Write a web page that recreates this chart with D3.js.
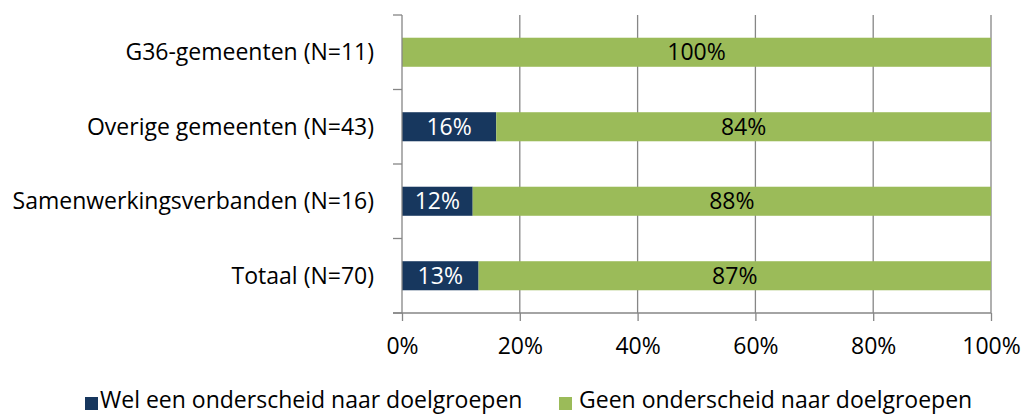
<!DOCTYPE html>
<html>
<head>
<meta charset="utf-8">
<script src="https://cdn.jsdelivr.net/npm/d3@7"></script>
<style>
  body { margin: 0; background: #fff; }
  svg text { font-family: "Open Sans", "Noto Sans", sans-serif; }
</style>
</head>
<body>
<svg id="chart" width="1024" height="414"></svg>
<script>
// data
let categories = ["G36-gemeenten (N=11)", "Overige gemeenten (N=43)", "Samenwerkingsverbanden (N=16)", "Totaal (N=70)"];
let welValues = [0, 16, 12, 13];
let geenValues = [100, 84, 88, 87];
let seriesNames = ["Wel een onderscheid naar doelgroepen", "Geen onderscheid naar doelgroepen"];
let tickValues = [0, 20, 40, 60, 80, 100];

let chart = d3.select("#chart");
let colors = ["#17375E", "#9BBB59"];
let gridColor = "#868686";
let fontSize = 23;

// scales
let x = d3.scaleLinear()
    .domain([0, 100])
    .range([402, 991]);

let y = d3.scaleBand()
    .domain(categories)
    .range([15, 313])
    .paddingInner(0.61)
    .paddingOuter(0.305);

// vertical gridlines
chart.selectAll(".grid")
    .data(tickValues.slice(1))
    .enter()
    .append("line")
    .attr("x1", d => x(d))
    .attr("x2", d => x(d))
    .attr("y1", 15)
    .attr("y2", 313)
    .attr("stroke", gridColor)
    .attr("stroke-width", 1.3);

// bars
let rows = categories.map((c, i) => ({ name: c, wel: welValues[i], geen: geenValues[i] }));

chart.selectAll(".wel")
    .data(rows)
    .enter()
    .append("rect")
    .attr("x", x(0))
    .attr("y", d => y(d.name))
    .attr("width", d => x(d.wel) - x(0))
    .attr("height", y.bandwidth())
    .attr("fill", colors[0]);

chart.selectAll(".geen")
    .data(rows)
    .enter()
    .append("rect")
    .attr("x", d => x(d.wel))
    .attr("y", d => y(d.name))
    .attr("width", d => x(d.wel + d.geen) - x(d.wel))
    .attr("height", y.bandwidth())
    .attr("fill", colors[1]);

// bar labels
chart.selectAll(".welLabel")
    .data(rows.filter(d => d.wel > 0))
    .enter()
    .append("text")
    .attr("x", d => x(d.wel / 2))
    .attr("y", d => y(d.name) + y.bandwidth() / 2)
    .attr("dy", "0.35em")
    .attr("text-anchor", "middle")
    .style("font-size", fontSize + "px")
    .style("fill", "#fff")
    .text(d => d.wel + "%");

chart.selectAll(".geenLabel")
    .data(rows)
    .enter()
    .append("text")
    .attr("x", d => x(d.wel + d.geen / 2))
    .attr("y", d => y(d.name) + y.bandwidth() / 2)
    .attr("dy", "0.35em")
    .attr("text-anchor", "middle")
    .style("font-size", fontSize + "px")
    .style("fill", "#000")
    .text(d => d.geen + "%");

// x axis
let xAxis = d3.axisBottom(x)
    .tickValues(tickValues)
    .tickSize(8)
    .tickSizeOuter(0)
    .tickPadding(17)
    .tickFormat(d => d + "%");
let xAxisGroup = chart.append("g")
    .attr("transform", "translate(0,313)")
    .call(xAxis);
xAxisGroup.select(".domain").remove();
xAxisGroup.selectAll("line").attr("stroke", gridColor).attr("stroke-width", 1.3);
xAxisGroup.selectAll("text")
    .style("font-size", fontSize + "px")
    .style("fill", "#000");
xAxisGroup.append("line")
    .attr("x1", 393)
    .attr("x2", x(100))
    .attr("stroke", gridColor)
    .attr("stroke-width", 1.3);

// y axis (ticks between categories)
let bounds = categories.map(c => y(c) - y.step() * y.paddingInner() / 2);
bounds.push(313);
chart.append("line")
    .attr("x1", x(0))
    .attr("x2", x(0))
    .attr("y1", 15)
    .attr("y2", 313)
    .attr("stroke", gridColor)
    .attr("stroke-width", 1.3);
chart.selectAll(".ytick")
    .data(bounds)
    .enter()
    .append("line")
    .attr("x1", 393)
    .attr("x2", x(0))
    .attr("y1", d => d)
    .attr("y2", d => d)
    .attr("stroke", gridColor)
    .attr("stroke-width", 1.3);

chart.selectAll(".ylabel")
    .data(categories)
    .enter()
    .append("text")
    .attr("x", 374)
    .attr("y", d => y(d) + y.bandwidth() / 2)
    .attr("dy", "0.35em")
    .attr("text-anchor", "end")
    .style("font-size", fontSize + "px")
    .style("fill", "#000")
    .text(d => d);

// legend
let legendBoxX = [85, 559];
let legendTextX = [100, 579];
let legend = chart.selectAll(".legend")
    .data(seriesNames)
    .enter()
    .append("g");
legend.append("rect")
    .attr("x", (d, i) => legendBoxX[i])
    .attr("y", 397)
    .attr("width", 13)
    .attr("height", 13)
    .attr("fill", (d, i) => colors[i]);
legend.append("text")
    .attr("x", (d, i) => legendTextX[i])
    .attr("y", 408)
    .style("font-size", fontSize + "px")
    .style("fill", "#000")
    .text(d => d);
</script>
</body>
</html>
